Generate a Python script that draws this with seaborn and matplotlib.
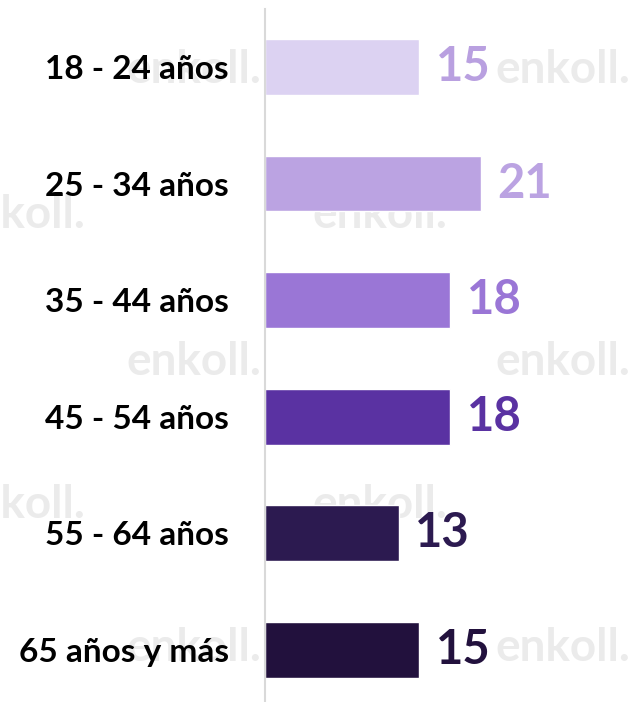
import matplotlib
matplotlib.use("Agg")
import matplotlib.pyplot as plt
import seaborn as sns

# data
age_groups = ["18 - 24 años", "25 - 34 años", "35 - 44 años",
              "45 - 54 años", "55 - 64 años", "65 años y más"]
shares = [15, 21, 18, 18, 13, 15]
bar_colors = ["#DCD2F2", "#BBA3E2", "#9A76D6", "#5A32A2", "#2C1A50", "#22113D"]
label_colors = ["#B9A0E0", "#BBA3E2", "#9A76D6", "#5A32A2", "#2C1A50", "#22113D"]

sns.set_style("white")
plt.rcParams["font.family"] = ["Lato", "DejaVu Sans"]

W, H = 634, 702
fig = plt.figure(figsize=(W / 100, H / 100), dpi=100)
ax = fig.add_axes([265 / W, 0, (W - 265) / W, (H - 9) / H])

# faint watermark, behind everything
wm = [(126, 70), (495, 70), (-50, 215), (312, 215), (126, 362), (495, 362),
      (-50, 505), (312, 505), (126, 648), (495, 648)]
for px, py in wm:
    fig.text(px / W, 1 - py / H, "enkoll.", fontsize=33, fontweight="bold",
             color="#EBEBEB", va="center", ha="left", zorder=-1)

sns.barplot(x=shares, y=age_groups, hue=age_groups, palette=bar_colors,
            saturation=1, legend=False, width=0.48, orient="h", ax=ax, zorder=2)
ax.patch.set_alpha(0)

for i, v in enumerate(shares):
    ax.text(v + 1.6, i, str(v), fontsize=34, fontweight="bold",
            color=label_colors[i], va="center", ha="left", zorder=3)

ax.set_xlim(0, 35.9)
ax.set_ylim(5.45, -0.498)
ax.set_xlabel("")
ax.set_ylabel("")
ax.set_xticks([])
for s in ["top", "right", "bottom"]:
    ax.spines[s].set_visible(False)
ax.spines["left"].set_color("#D9D9D9")
ax.spines["left"].set_linewidth(1.5)
ax.tick_params(axis="y", length=0, pad=26)
for lbl in ax.get_yticklabels():
    lbl.set_fontsize(24)
    lbl.set_fontweight("bold")
    lbl.set_color("black")

fig.savefig("out.png", dpi=100)
